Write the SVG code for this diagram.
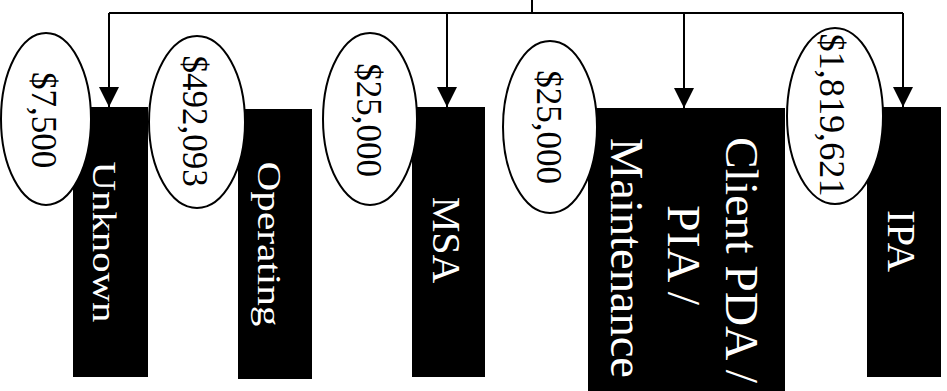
<svg xmlns="http://www.w3.org/2000/svg" width="947" height="391" viewBox="0 0 947 391">
<style>
.box{fill:#000}
.oval{fill:#fff;stroke:#000;stroke-width:2}
.lbl{fill:#fff;font-family:"Liberation Serif","Times New Roman",serif}
.amt{fill:#000;font-family:"Liberation Serif","Times New Roman",serif;font-size:35px}
.wire{fill:none;stroke:#000;stroke-width:2}
</style>
<defs>
<marker id="ah" markerWidth="20" markerHeight="20" refX="20" refY="10" orient="auto" markerUnits="userSpaceOnUse">
<path d="M0,0 L20,10 L0,20 Z" fill="#000"/>
</marker>
</defs>
<g id="connectors">
<path class="wire" d="M532,0 V13"/>
<path class="wire" d="M109,13 H903"/>
<path class="wire" d="M109,13 V107" marker-end="url(#ah)"/>
<path class="wire" d="M447,13 V107" marker-end="url(#ah)"/>
<path class="wire" d="M684,13 V108" marker-end="url(#ah)"/>
<path class="wire" d="M903,13 V107" marker-end="url(#ah)"/>
</g>
<g id="unknown">
<rect class="box" x="73" y="107" width="75" height="270"/>
<text class="lbl" font-size="33" textLength="161" lengthAdjust="spacingAndGlyphs" text-anchor="middle" transform="translate(93,242) rotate(90)">Unknown</text>
<ellipse class="oval" cx="46" cy="119" rx="45" ry="86"/>
<text class="amt" text-anchor="middle" transform="translate(32,120) rotate(90)">$7,500</text>
</g>
<g id="operating">
<rect class="box" x="238" y="109" width="74" height="270"/>
<text class="lbl" font-size="33" textLength="165" lengthAdjust="spacingAndGlyphs" text-anchor="middle" transform="translate(258,244) rotate(90)">Operating</text>
<ellipse class="oval" cx="197" cy="122" rx="48" ry="86"/>
<text class="amt" text-anchor="middle" transform="translate(183,121) rotate(90)">$492,093</text>
</g>
<g id="msa">
<rect class="box" x="412" y="107" width="73" height="270"/>
<text class="lbl" font-size="40" text-anchor="middle" transform="translate(433,240) rotate(90)">MSA</text>
<ellipse class="oval" cx="370" cy="119" rx="47" ry="86"/>
<text class="amt" text-anchor="middle" transform="translate(357,120) rotate(90)">$25,000</text>
</g>
<g id="client">
<rect class="box" x="588" y="108" width="197" height="283"/>
<text class="lbl" font-size="47" textLength="246" lengthAdjust="spacingAndGlyphs" text-anchor="middle" transform="translate(726,260) rotate(90)">Client PDA /</text>
<text class="lbl" font-size="46" textLength="100" lengthAdjust="spacingAndGlyphs" text-anchor="middle" transform="translate(668,255) rotate(90)">PIA /</text>
<text class="lbl" font-size="47" textLength="240" lengthAdjust="spacingAndGlyphs" text-anchor="middle" transform="translate(611,258) rotate(90)">Maintenance</text>
<ellipse class="oval" cx="550" cy="127" rx="47" ry="86"/>
<text class="amt" text-anchor="middle" transform="translate(537,127) rotate(90)">$25,000</text>
</g>
<g id="ipa">
<rect class="box" x="867" y="107" width="74" height="270"/>
<text class="lbl" font-size="40" textLength="62" lengthAdjust="spacingAndGlyphs" text-anchor="middle" transform="translate(888,241) rotate(90)">IPA</text>
<ellipse class="oval" cx="835" cy="116" rx="48" ry="88"/>
<text class="amt" font-size="36" textLength="163" lengthAdjust="spacingAndGlyphs" text-anchor="middle" transform="translate(820,115) rotate(90)">$1,819,621</text>
</g>
</svg>
